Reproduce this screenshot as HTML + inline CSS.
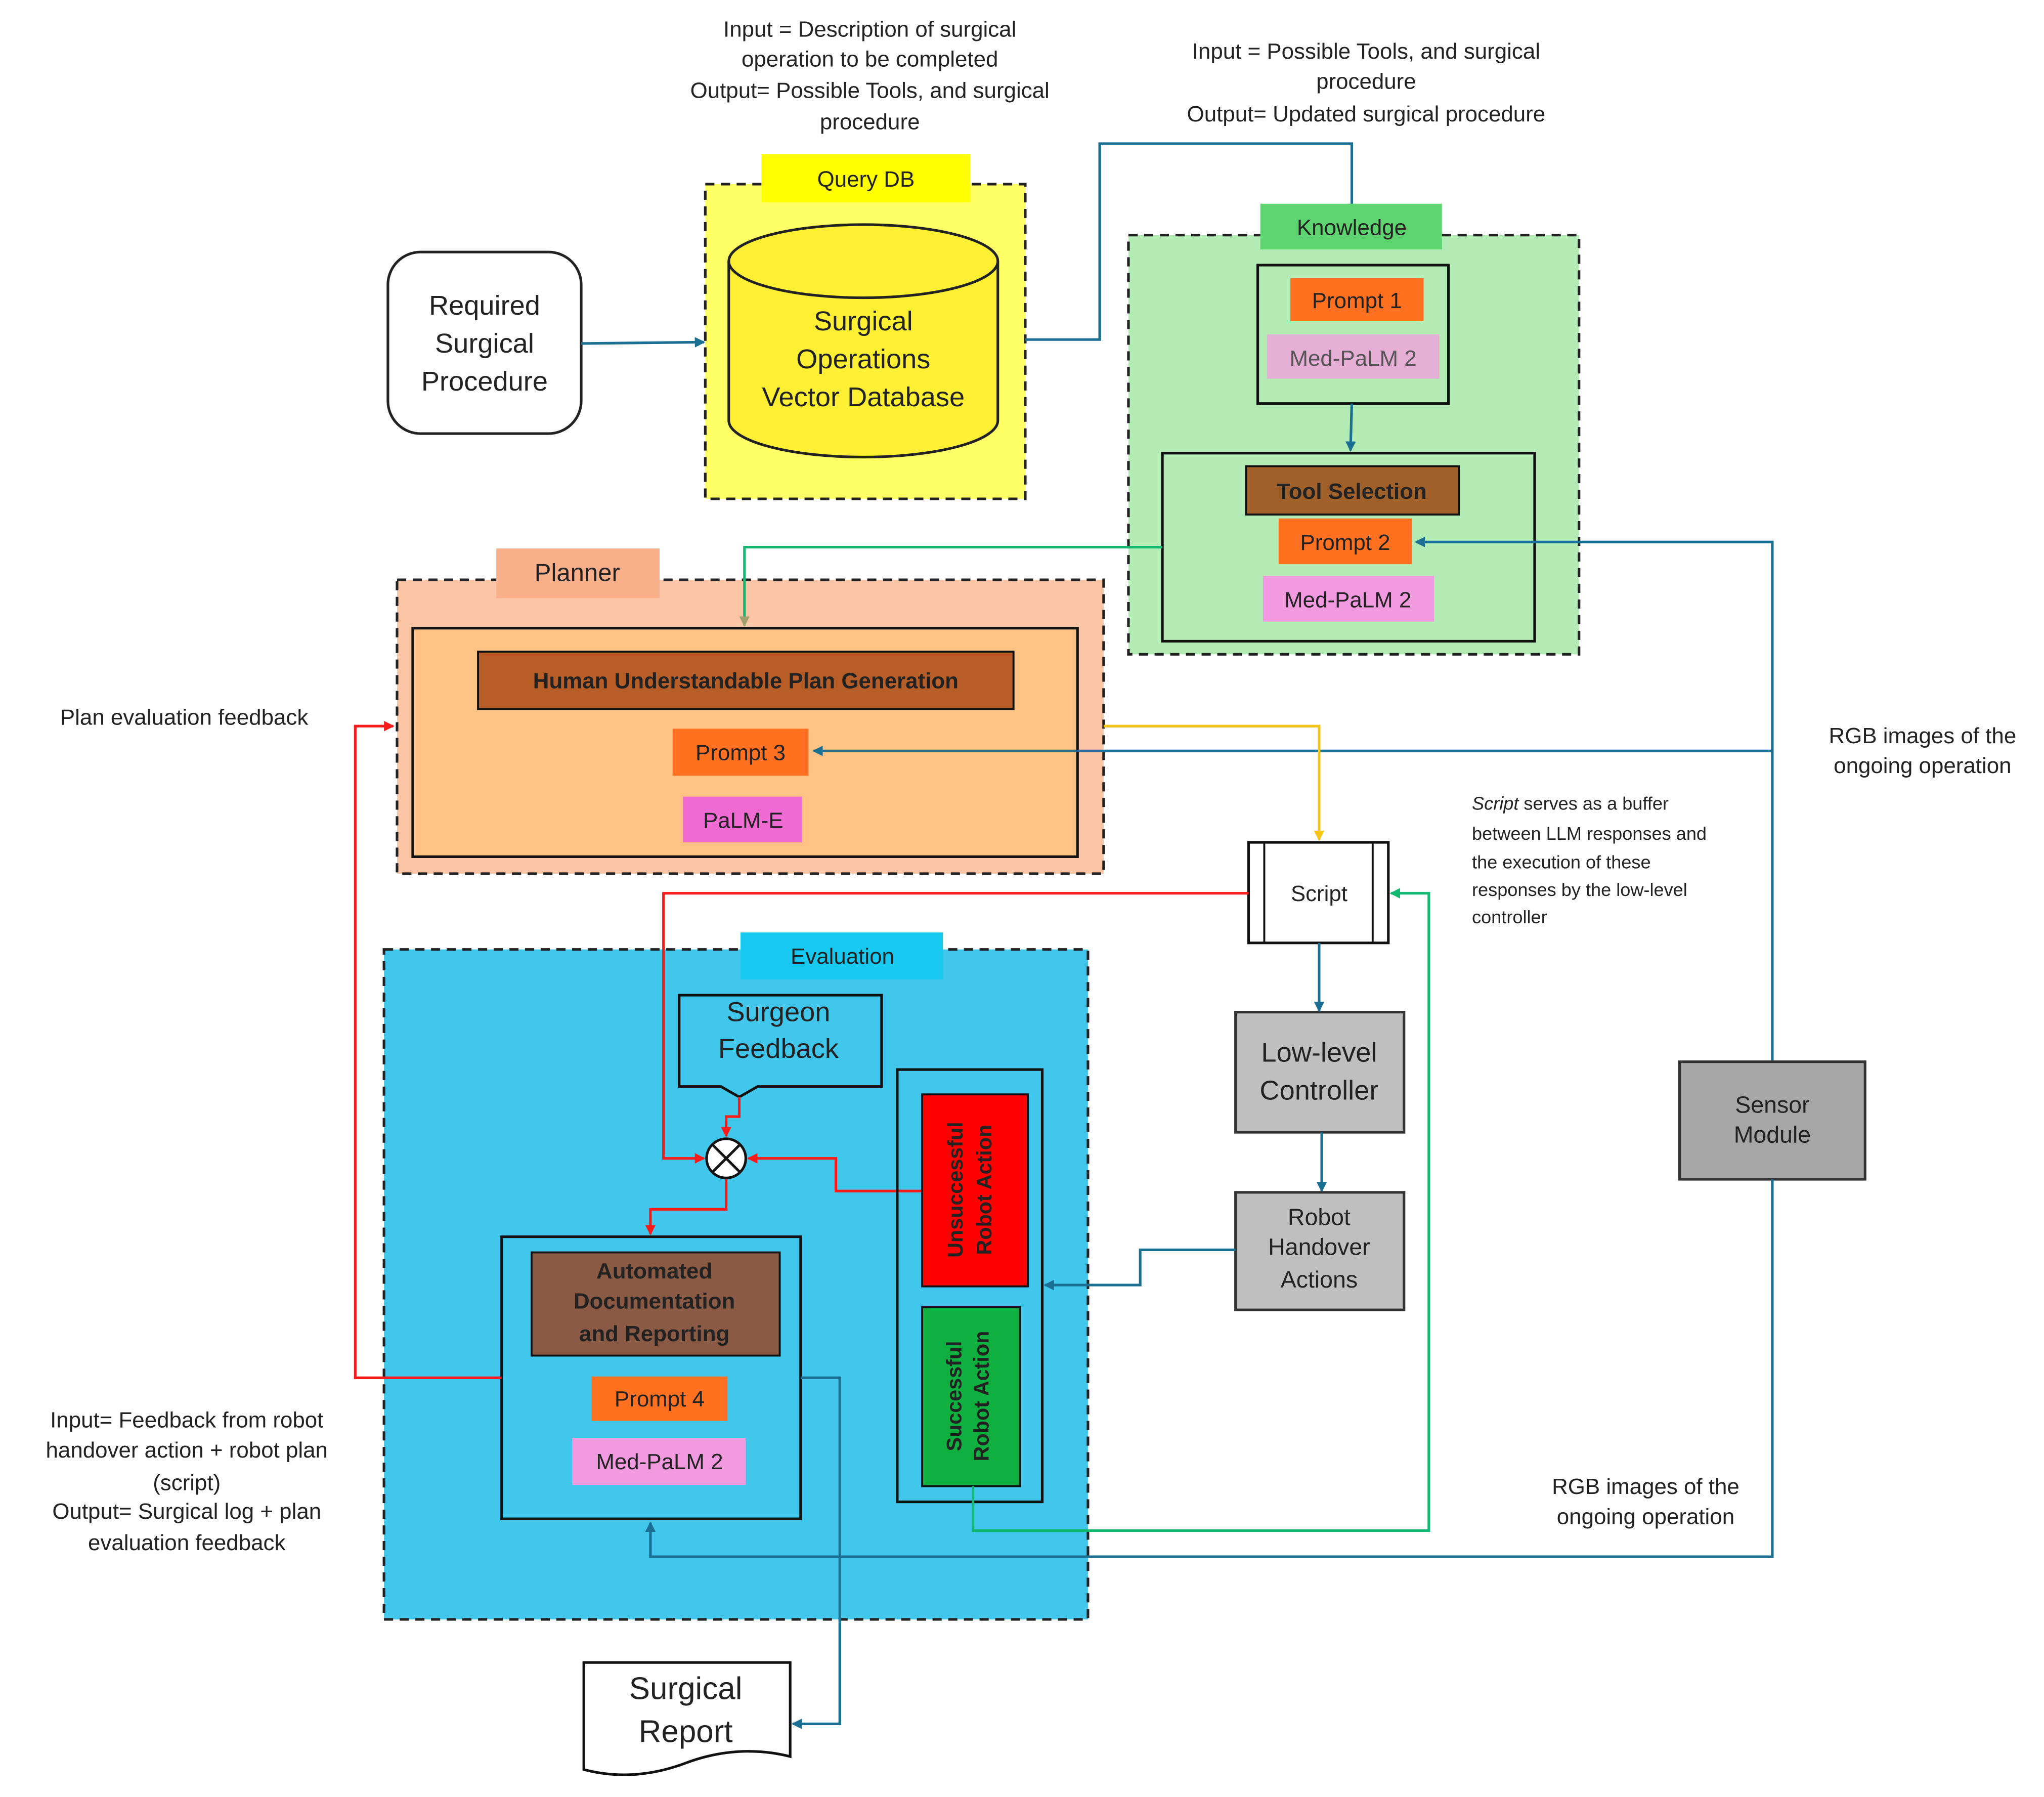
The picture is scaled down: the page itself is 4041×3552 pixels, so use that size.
<!DOCTYPE html>
<html><head><meta charset="utf-8"><style>
html,body{margin:0;padding:0;background:#fff;}
svg{display:block;}
text{font-family:"Liberation Sans","DejaVu Sans",sans-serif;fill:#222;}
</style></head><body>
<svg width="4041" height="3552" viewBox="0 0 1565 1376" preserveAspectRatio="none" xmlns="http://www.w3.org/2000/svg">
<defs>
<marker id="ab" markerWidth="8" markerHeight="8" refX="7" refY="4" orient="auto" markerUnits="userSpaceOnUse"><path d="M0,0 L8,4 L0,8 z" fill="#1b6f92"/></marker>
<marker id="ar" markerWidth="8" markerHeight="8" refX="7" refY="4" orient="auto" markerUnits="userSpaceOnUse"><path d="M0,0 L8,4 L0,8 z" fill="#ff1a1a"/></marker>
<marker id="ag" markerWidth="8" markerHeight="8" refX="7" refY="4" orient="auto" markerUnits="userSpaceOnUse"><path d="M0,0 L8,4 L0,8 z" fill="#10b870"/></marker>
<marker id="ao" markerWidth="8" markerHeight="8" refX="7" refY="4" orient="auto" markerUnits="userSpaceOnUse"><path d="M0,0 L8,4 L0,8 z" fill="#a0a070"/></marker>
<marker id="ay" markerWidth="8" markerHeight="8" refX="7" refY="4" orient="auto" markerUnits="userSpaceOnUse"><path d="M0,0 L8,4 L0,8 z" fill="#f5c518"/></marker>
</defs>

<!-- top texts -->
<g font-size="17" text-anchor="middle">
<text x="666" y="28">Input = Description of surgical</text>
<text x="666" y="51">operation to be completed</text>
<text x="666" y="75">Output= Possible Tools, and surgical</text>
<text x="666" y="99">procedure</text>
<text x="1046" y="45">Input = Possible Tools, and surgical</text>
<text x="1046" y="68">procedure</text>
<text x="1046" y="93">Output= Updated surgical procedure</text>
</g>

<!-- Required Surgical Procedure -->
<rect x="297" y="193" width="148" height="139" rx="25" fill="#fff" stroke="#222" stroke-width="2"/>
<g font-size="21" text-anchor="middle"><text x="371" y="241">Required</text><text x="371" y="270">Surgical</text><text x="371" y="299">Procedure</text></g>

<!-- Query DB -->
<rect x="540" y="141" width="245" height="241" fill="#ffff66" stroke="#222" stroke-width="2" stroke-dasharray="7,5"/>
<rect x="583" y="118" width="160" height="37" fill="#ffff00"/>
<text x="663" y="143" font-size="17" text-anchor="middle">Query DB</text>
<path d="M558,200 L558,322 A103,28 0 0 0 764,322 L764,200" fill="#fff033" stroke="#222" stroke-width="2"/>
<ellipse cx="661" cy="200" rx="103" ry="28" fill="#fff033" stroke="#222" stroke-width="2"/>
<g font-size="21" text-anchor="middle"><text x="661" y="253">Surgical</text><text x="661" y="282">Operations</text><text x="661" y="311">Vector Database</text></g>

<line x1="445" y1="263" x2="539" y2="262" stroke="#1b6f92" stroke-width="2" marker-end="url(#ab)"/>
<polyline points="785,260 842,260 842,110 1035,110 1035,201" fill="none" stroke="#1b6f92" stroke-width="2" marker-end="url(#ab)"/>

<!-- Knowledge -->
<rect x="864" y="180" width="345" height="321" fill="#b3ebb5" stroke="#222" stroke-width="2" stroke-dasharray="7,5"/>
<rect x="965" y="156" width="139" height="35" fill="#5dd46f"/>
<text x="1035" y="180" font-size="17" text-anchor="middle">Knowledge</text>
<rect x="963" y="203" width="146" height="106" fill="none" stroke="#111" stroke-width="2"/>
<rect x="988" y="213" width="102" height="33" fill="#ff7020"/>
<text x="1039" y="236" font-size="17" text-anchor="middle">Prompt 1</text>
<rect x="970" y="256" width="132" height="34" fill="#e6b0d6"/>
<text x="1036" y="280" font-size="17" text-anchor="middle" style="fill:#555">Med-PaLM 2</text>
<line x1="1035" y1="309" x2="1034" y2="345" stroke="#1b6f92" stroke-width="2" marker-end="url(#ab)"/>
<rect x="890" y="347" width="285" height="144" fill="none" stroke="#111" stroke-width="2"/>
<rect x="954" y="357" width="163" height="37" fill="#a0602a" stroke="#111" stroke-width="1.5"/>
<text x="1035" y="382" font-size="17" font-weight="bold" text-anchor="middle">Tool Selection</text>
<rect x="979" y="397" width="102" height="35" fill="#ff7020"/>
<text x="1030" y="421" font-size="17" text-anchor="middle">Prompt 2</text>
<rect x="967" y="441" width="131" height="35" fill="#f29ae0"/>
<text x="1032" y="465" font-size="17" text-anchor="middle">Med-PaLM 2</text>

<!-- Planner -->
<rect x="304" y="444" width="541" height="225" fill="#fcc5a6" stroke="#222" stroke-width="2" stroke-dasharray="7,5"/>
<rect x="380" y="420" width="125" height="38" fill="#f9b08a"/>
<text x="442" y="445" font-size="19" text-anchor="middle">Planner</text>
<rect x="316" y="481" width="509" height="175" fill="#ffc285" stroke="#111" stroke-width="2"/>
<rect x="366" y="499" width="410" height="44" fill="#b65d28" stroke="#111" stroke-width="1.5"/>
<text x="571" y="527" font-size="17" font-weight="bold" text-anchor="middle">Human Understandable Plan Generation</text>
<rect x="515" y="558" width="104" height="36" fill="#ff7020"/>
<text x="567" y="582" font-size="17" text-anchor="middle">Prompt 3</text>
<rect x="523" y="610" width="91" height="35" fill="#f06ad4"/>
<text x="569" y="634" font-size="17" text-anchor="middle">PaLM-E</text>

<polyline points="890,419 570,419 570,479" fill="none" stroke="#10b870" stroke-width="2" marker-end="url(#ao)"/>
<polyline points="1357,812 1357,415 1084,415" fill="none" stroke="#1b6f92" stroke-width="2" marker-end="url(#ab)"/>
<polyline points="1357,575 623,575" fill="none" stroke="#1b6f92" stroke-width="2" marker-end="url(#ab)"/>
<polyline points="845,556 1010,556 1010,643" fill="none" stroke="#f5c518" stroke-width="2" marker-end="url(#ay)"/>

<text x="141" y="555" font-size="17" text-anchor="middle">Plan evaluation feedback</text>
<g font-size="17" text-anchor="middle"><text x="1472" y="569">RGB images of the</text><text x="1472" y="592">ongoing operation</text></g>

<!-- Script -->
<rect x="956" y="645" width="107" height="77" fill="#fff" stroke="#111" stroke-width="2"/>
<line x1="968" y1="645" x2="968" y2="722" stroke="#111" stroke-width="1.5"/>
<line x1="1051" y1="645" x2="1051" y2="722" stroke="#111" stroke-width="1.5"/>
<text x="1010" y="690" font-size="17" text-anchor="middle">Script</text>
<g font-size="14"><text x="1127" y="620"><tspan font-style="italic">Script</tspan> serves as a buffer</text><text x="1127" y="643">between LLM responses and</text><text x="1127" y="665">the execution of these</text><text x="1127" y="686">responses by the low-level</text><text x="1127" y="707">controller</text></g>

<!-- Evaluation -->
<rect x="294" y="727" width="539" height="513" fill="#41c6ec" stroke="#222" stroke-width="2" stroke-dasharray="7,5"/>
<rect x="567" y="714" width="155" height="36" fill="#17c9f0"/>
<text x="645" y="738" font-size="17" text-anchor="middle">Evaluation</text>

<polyline points="956,684 508,684 508,887 539,887" fill="none" stroke="#ff1a1a" stroke-width="2" marker-end="url(#ar)"/>

<path d="M520,762 L675,762 L675,832 L580,832 L566,840 L552,832 L520,832 Z" fill="#41c6ec" stroke="#111" stroke-width="2"/>
<g font-size="21" text-anchor="middle"><text x="596" y="782">Surgeon</text><text x="596" y="810">Feedback</text></g>
<polyline points="566,840 566,855 556,855 556,870" fill="none" stroke="#ff1a1a" stroke-width="2" marker-end="url(#ar)"/>
<circle cx="556" cy="887" r="15" fill="#fff" stroke="#111" stroke-width="2"/>
<line x1="545" y1="876" x2="567" y2="898" stroke="#111" stroke-width="2"/>
<line x1="567" y1="876" x2="545" y2="898" stroke="#111" stroke-width="2"/>
<polyline points="706,912 640,912 640,887 573,887" fill="none" stroke="#ff1a1a" stroke-width="2" marker-end="url(#ar)"/>
<polyline points="556,903 556,926 498,926 498,945" fill="none" stroke="#ff1a1a" stroke-width="2" marker-end="url(#ar)"/>

<rect x="687" y="819" width="111" height="331" fill="none" stroke="#111" stroke-width="2"/>
<rect x="706" y="838" width="81" height="147" fill="#ff0000" stroke="#111" stroke-width="1.5"/>
<g font-size="16" font-weight="bold" text-anchor="middle"><text transform="translate(737,911) rotate(-90)">Unsuccessful</text><text transform="translate(759,911) rotate(-90)">Robot Action</text></g>
<rect x="706" y="1001" width="75" height="137" fill="#0fb040" stroke="#111" stroke-width="1.5"/>
<g font-size="16" font-weight="bold" text-anchor="middle"><text transform="translate(736,1069) rotate(-90)">Successful</text><text transform="translate(757,1069) rotate(-90)">Robot Action</text></g>

<polyline points="745,1138 745,1172 1094,1172 1094,684 1065,684" fill="none" stroke="#10b870" stroke-width="2" marker-end="url(#ag)"/>

<!-- Low-level etc -->
<rect x="946" y="775" width="129" height="92" fill="#bfbfbf" stroke="#333" stroke-width="2"/>
<g font-size="21" text-anchor="middle"><text x="1010" y="813">Low-level</text><text x="1010" y="842">Controller</text></g>
<line x1="1010" y1="722" x2="1010" y2="774" stroke="#1b6f92" stroke-width="2" marker-end="url(#ab)"/>
<line x1="1012" y1="867" x2="1012" y2="912" stroke="#1b6f92" stroke-width="2" marker-end="url(#ab)"/>
<rect x="946" y="913" width="129" height="90" fill="#bfbfbf" stroke="#333" stroke-width="2"/>
<g font-size="18" text-anchor="middle"><text x="1010" y="938">Robot</text><text x="1010" y="961">Handover</text><text x="1010" y="986">Actions</text></g>
<polyline points="946,957 873,957 873,984 800,984" fill="none" stroke="#1b6f92" stroke-width="2" marker-end="url(#ab)"/>

<rect x="1286" y="813" width="142" height="90" fill="#a6a6a6" stroke="#333" stroke-width="2"/>
<g font-size="18" text-anchor="middle"><text x="1357" y="852">Sensor</text><text x="1357" y="875">Module</text></g>
<polyline points="1357,903 1357,1192 498,1192 498,1166" fill="none" stroke="#1b6f92" stroke-width="2" marker-end="url(#ab)"/>
<g font-size="17" text-anchor="middle"><text x="1260" y="1144">RGB images of the</text><text x="1260" y="1167">ongoing operation</text></g>

<!-- Automated doc -->
<rect x="384" y="947" width="229" height="216" fill="none" stroke="#111" stroke-width="2"/>
<rect x="407" y="959" width="190" height="79" fill="#8a5a44" stroke="#111" stroke-width="1.5"/>
<g font-size="17" font-weight="bold" text-anchor="middle"><text x="501" y="979">Automated</text><text x="501" y="1002">Documentation</text><text x="501" y="1027">and Reporting</text></g>
<rect x="453" y="1054" width="104" height="34" fill="#ff7020"/>
<text x="505" y="1077" font-size="17" text-anchor="middle">Prompt 4</text>
<rect x="438" y="1101" width="133" height="36" fill="#f29ae0"/>
<text x="505" y="1125" font-size="17" text-anchor="middle">Med-PaLM 2</text>

<polyline points="384,1055 272,1055 272,556 301,556" fill="none" stroke="#ff1a1a" stroke-width="2" marker-end="url(#ar)"/>
<polyline points="613,1055 643,1055 643,1320 607,1320" fill="none" stroke="#1b6f92" stroke-width="2" marker-end="url(#ab)"/>

<g font-size="17" text-anchor="middle"><text x="143" y="1093">Input= Feedback from robot</text><text x="143" y="1116">handover action + robot plan</text><text x="143" y="1141">(script)</text><text x="143" y="1163">Output= Surgical log + plan</text><text x="143" y="1187">evaluation feedback</text></g>

<!-- Surgical Report -->
<path d="M447,1273 L605,1273 L605,1345 Q565,1335 525,1350 Q485,1365 447,1355 Z" fill="#fff" stroke="#111" stroke-width="2"/>
<g font-size="24" text-anchor="middle"><text x="525" y="1301">Surgical</text><text x="525" y="1334">Report</text></g>
</svg>
</body></html>
